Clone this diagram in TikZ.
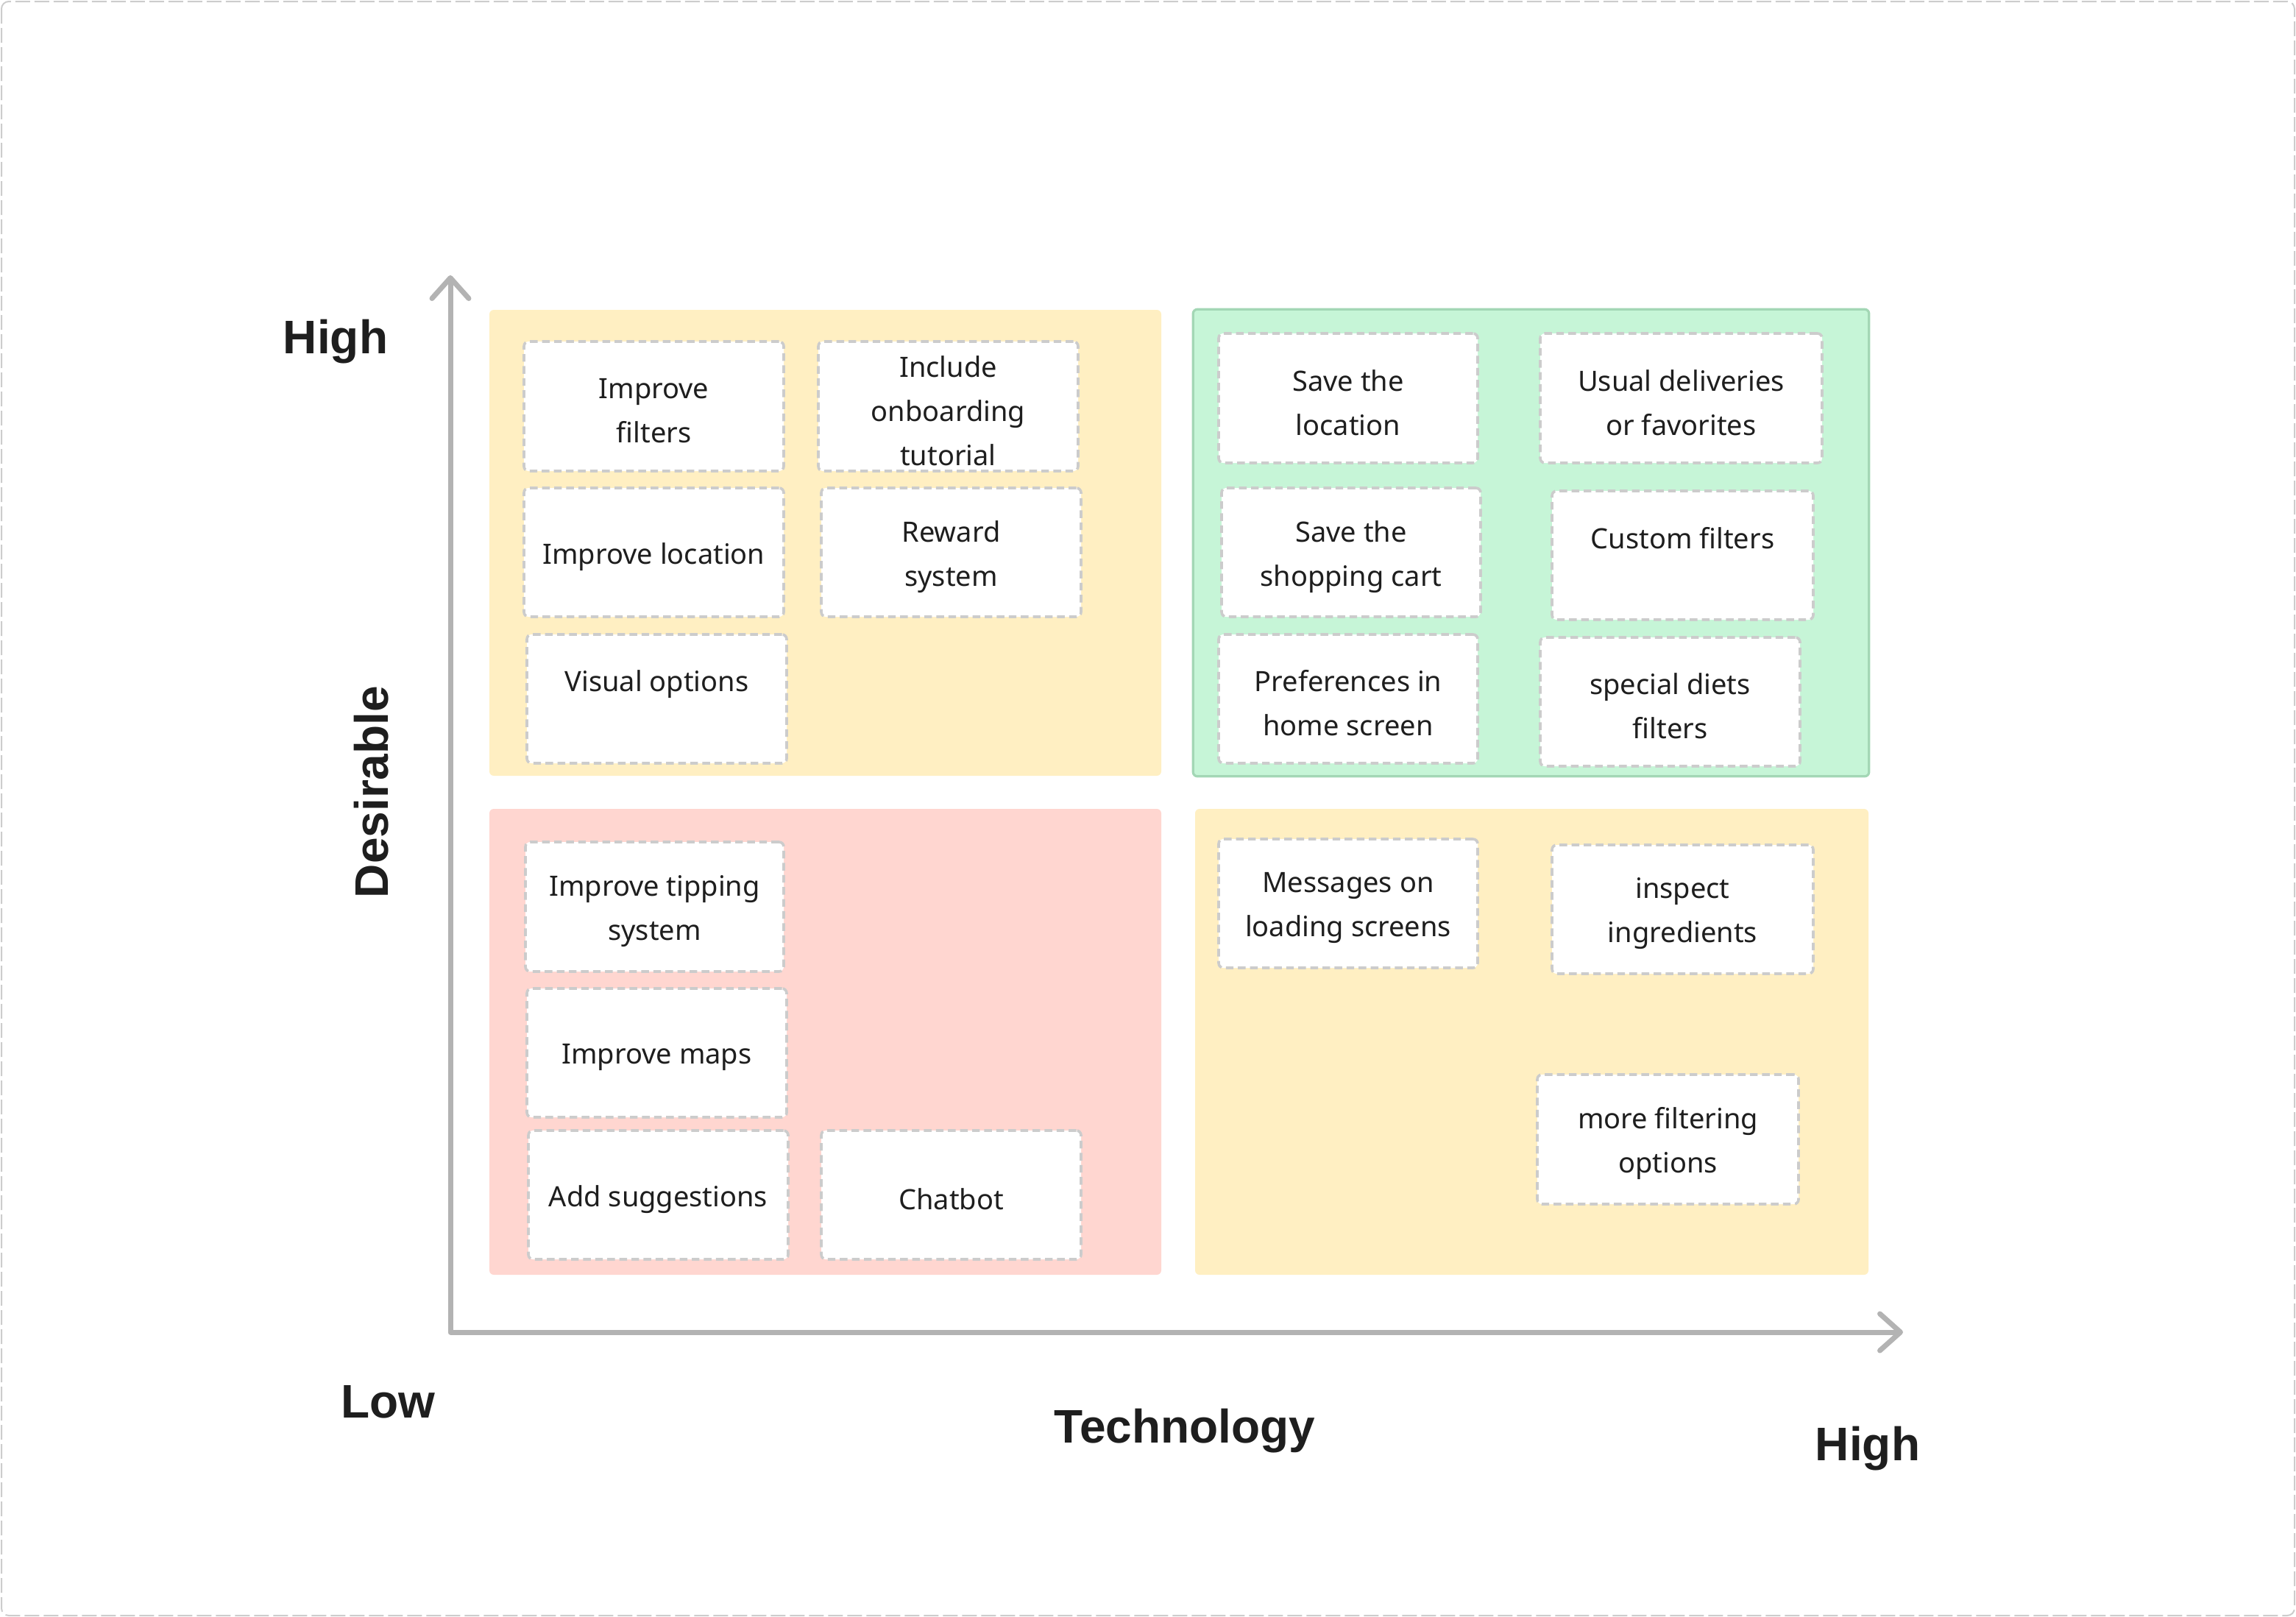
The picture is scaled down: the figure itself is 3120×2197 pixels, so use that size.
\documentclass[tikz,border=0pt]{standalone}
\usepackage{fontspec}
\setmainfont{Noto Sans}
\newfontfamily\lblfont{Liberation Sans}
\usetikzlibrary{arrows.meta}
\definecolor{ink}{HTML}{1E1E1E}
\definecolor{framegray}{HTML}{CCCCCC}
\definecolor{axisgray}{HTML}{B3B3B3}
\definecolor{qyellow}{HTML}{FFEFC2}
\definecolor{qgreen}{HTML}{C6F5D7}
\definecolor{qgreenline}{HTML}{A3D7B5}
\definecolor{qred}{HTML}{FFD6D0}
\newcommand\mycard[6]{\node[cardbox, minimum width={(#4-#2)*0.25pt}, minimum height={(#5-#3)*0.25pt}] (#1) at ({(#2+#4)/2},{(#3+#5)/2}) {};
  \node[cardtext, yshift=-1.5pt] (#1-t) at (#1.center) {#6};}
\newcommand\myquad[6]{\node[quadbox, fill=#6, minimum width={(#4-#2)*0.25pt}, minimum height={(#5-#3)*0.25pt}] (#1) at ({(#2+#4)/2},{(#3+#5)/2}) {};}
\begin{document}
\begin{tikzpicture}[x=0.25pt,y=-0.25pt,
  quadbox/.style={rectangle, rounded corners=1.5pt, inner sep=0pt, draw=none},
  cardbox/.style={rectangle, draw=framegray, fill=white, dash pattern=on 2.6pt off 1.5pt, line width=0.9pt, rounded corners=1.6pt, inner sep=0pt},
  cardtext/.style={align=center, inner sep=0pt, text=ink, font=\fontsize{9.5pt}{15pt}\selectfont},
  lbl/.style={font=\lblfont\bfseries\fontsize{16pt}{19pt}\selectfont, text=ink, inner sep=0pt, anchor=base},
  axis/.style={draw=axisgray, line width=1.75pt, line cap=round, line join=round, {Straight Barb[length=7pt, width=12.5pt, round]}-{Straight Barb[length=7pt, width=12.5pt, round]}}
]
\useasboundingbox (0,0) rectangle (3120,2197);
\draw[framegray, line width=0.5pt, dash pattern=on 5pt off 1.5pt, rounded corners=2.5pt] (2,2) rectangle (3118,2195);

% quadrants
\myquad{qtl}{665}{421}{1578}{1054}{qyellow}
\myquad{qtr}{1622}{421}{2539}{1054}{qgreen}
\draw[qgreenline, line width=0.8pt, rounded corners=1.5pt] (qtr.south west) rectangle (qtr.north east);
\myquad{qbl}{665}{1099}{1578}{1732}{qred}
\myquad{qbr}{1624}{1099}{2539}{1732}{qyellow}

% axes
\coordinate (ytip) at (612,374);
\coordinate (orig) at (612,1810);
\coordinate (xtip) at (2586,1810);
\draw[axis] (ytip) -- (orig) -- (xtip);

% top-left cards
\mycard{c1}{712}{464}{1065}{640}{Improve\\filters}
\mycard{c2}{1112}{464}{1465}{640}{Include\\onboarding\\tutorial}
\mycard{c3}{712}{663}{1065}{838}{Improve location}
\mycard{c4}{1116}{663}{1469}{838}{Reward\\system}
\mycard{c5}{716}{862}{1069}{1037}{Visual options\\\mbox{}}

% top-right cards
\mycard{c6}{1656}{453}{2008}{629}{Save the\\location}
\mycard{c7}{2093}{453}{2476}{629}{Usual deliveries\\or favorites}
\mycard{c8}{1660}{663}{2012}{838}{Save the\\shopping cart}
\mycard{c9}{2109}{667}{2464}{842}{Custom filters\\\mbox{}}
\mycard{c10}{1656}{862}{2008}{1037}{Preferences in\\home screen}
\mycard{c11}{2093}{866}{2446}{1041}{special diets\\filters}

% bottom-left cards
\mycard{c12}{714}{1144}{1065}{1320}{Improve tipping\\system}
\mycard{c13}{716}{1343}{1069}{1518}{Improve maps}
\mycard{c14}{718}{1536}{1071}{1711}{Add suggestions}
\mycard{c15}{1116}{1536}{1469}{1711}{Chatbot}

% bottom-right cards
\mycard{c16}{1656}{1140}{2008}{1315}{Messages on\\loading screens}
\mycard{c17}{2109}{1148}{2464}{1323}{inspect\\ingredients}
\mycard{c18}{2089}{1460}{2444}{1636}{more filtering\\options}

% labels
\node[lbl] (hightop) at (456,480) {High};
\node[lbl, rotate=90] (desir) at (527,1076) {Desirable};
\node[lbl] (low) at (527,1926) {Low};
\node[lbl] (tech) at (1610,1960) {Technology};
\node[lbl] (highright) at (2538,1984) {High};
\end{tikzpicture}
\end{document}
